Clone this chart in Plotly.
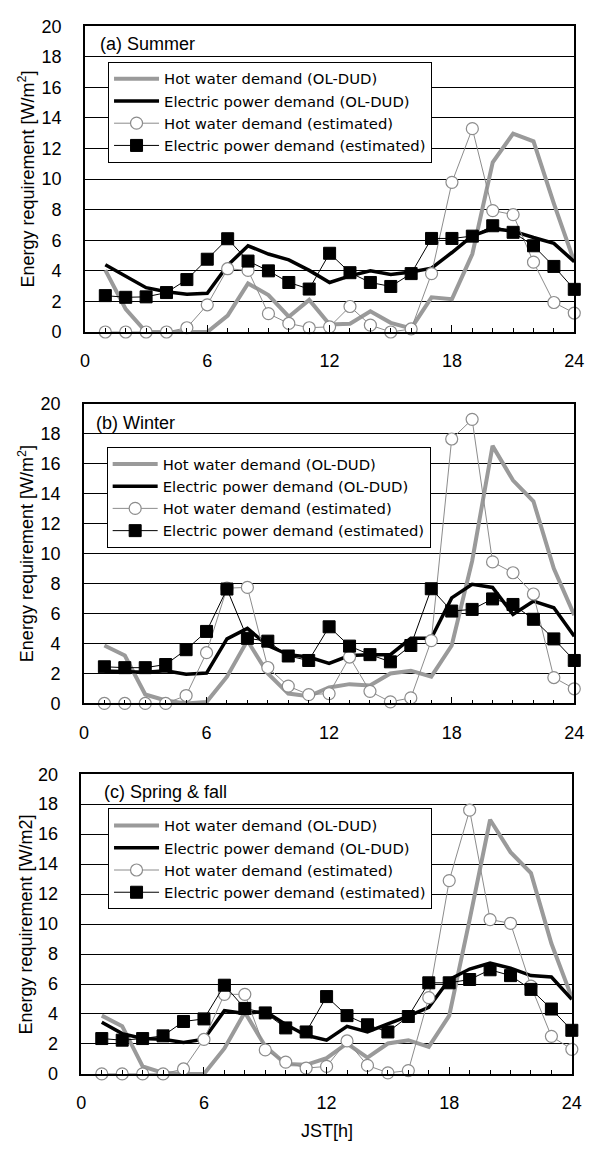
import plotly.graph_objects as go

hours = list(range(1, 25))

# (a) Summer
a_hot_ol = [4.05, 1.5, 0.0, 0.0, 0.0, 0.0, 1.07, 3.18, 2.42, 1.0, 2.1, 0.49, 0.54, 1.35, 0.6, 0.24,
            2.27, 2.15, 5.1, 11.1, 12.98, 12.47, 8.4, 4.6]
a_elec_ol = [4.4, 3.67, 2.9, 2.64, 2.47, 2.53, 4.36, 5.64, 5.1, 4.72, 4.03, 3.24, 3.67, 4.0, 3.76, 3.93,
             4.18, 5.2, 6.29, 6.76, 6.6, 6.18, 5.8, 4.6]
a_hot_est = [0.0, 0.0, 0.0, 0.0, 0.28, 1.78, 4.14, 4.03, 1.2, 0.56, 0.28, 0.34, 1.67, 0.45, 0.0, 0.2,
             3.82, 9.79, 13.3, 7.94, 7.68, 4.57, 1.93, 1.24]
a_elec_est = [2.38, 2.27, 2.3, 2.58, 3.43, 4.76, 6.1, 4.64, 4.0, 3.24, 2.81, 5.15, 3.88, 3.24, 2.98, 3.82,
              6.12, 6.12, 6.27, 6.95, 6.52, 5.64, 4.29, 2.79]

# (b) Winter
b_hot_ol = [3.87, 3.2, 0.6, 0.2, 0.0, 0.1, 1.79, 4.2, 2.0, 0.66, 0.48, 1.07, 1.29, 1.2, 2.0, 2.19,
            1.79, 3.87, 9.5, 17.2, 14.9, 13.5, 9.0, 5.9]
b_elec_ol = [2.17, 2.12, 2.08, 2.19, 1.95, 2.03, 4.31, 5.01, 3.87, 3.26, 3.1, 2.67, 3.2, 3.26, 3.26, 4.35,
             4.35, 7.05, 7.96, 7.75, 5.95, 6.83, 6.39, 4.49]
b_hot_est = [0.0, 0.0, 0.0, 0.0, 0.53, 3.39, 7.7, 7.75, 2.4, 1.16, 0.59, 0.66, 3.1, 0.81, 0.11, 0.37,
             4.2, 17.66, 18.97, 9.45, 8.73, 7.31, 1.73, 0.98]
b_elec_est = [2.45, 2.39, 2.39, 2.6, 3.59, 4.81, 7.64, 4.35, 4.16, 3.17, 2.87, 5.12, 3.83, 3.26, 2.78, 3.87,
              7.66, 6.17, 6.28, 6.98, 6.61, 5.62, 4.31, 2.87]

# (c) Spring & fall
c_hot_ol = [3.89, 3.19, 0.5, 0.07, 0.0, 0.0, 1.7, 4.11, 1.85, 0.66, 0.61, 1.05, 2.03, 1.09, 2.03, 2.25,
            1.81, 3.89, 10.3, 16.96, 14.8, 13.4, 8.7, 5.09]
c_elec_ol = [3.45, 2.69, 2.36, 2.32, 2.1, 2.32, 4.22, 4.04, 4.17, 3.3, 2.58, 2.25, 3.17, 2.8, 3.34, 3.85,
             4.44, 6.3, 7.0, 7.39, 7.06, 6.56, 6.47, 4.98]
c_hot_est = [0.0, 0.0, 0.0, 0.0, 0.33, 2.3, 5.31, 5.31, 1.6, 0.79, 0.39, 0.5, 2.2, 0.57, 0.07, 0.22,
             5.09, 12.9, 17.6, 10.3, 10.05, 5.86, 2.51, 1.64]
c_elec_est = [2.36, 2.25, 2.36, 2.54, 3.5, 3.67, 5.92, 4.37, 4.07, 3.07, 2.8, 5.16, 3.89, 3.28, 2.8, 3.83,
              6.08, 6.08, 6.3, 6.95, 6.56, 5.64, 4.33, 2.91]

series_names = ["Hot water demand (OL-DUD)", "Electric power demand (OL-DUD)",
                "Hot water demand (estimated)", "Electric power demand (estimated)"]
panel_labels = ["(a) Summer", "(b) Winter", "(c) Spring &amp; fall"]
y_titles = ["Energy requirement [W/m<sup>2</sup>]", "Energy requirement [W/m<sup>2</sup>]",
            "Energy requirement [W/m2]"]
x_tick_vals = [0, 6, 12, 18, 24]
y_tick_vals = [0, 2, 4, 6, 8, 10, 12, 14, 16, 18, 20]
x_title = "JST[h]"

W, H = 595, 1153
FONT = "Liberation Sans, Arial, sans-serif"
LEG_FONT = "DejaVu Sans, Liberation Sans, sans-serif"

# panel geometry in pixels: left, right, top, bottom
panels = [(82, 584, 16.5, 327.7), (81, 584, 400.9, 705.7), (78.3, 581.5, 777.7, 1082.7)]
legend_pos = [(105.7, 52.5), (104.3, 444.5), (105.7, 812.5)]
label_pos = [(95, 35), (91.7, 420), (100, 796)]

data = [(a_hot_ol, a_elec_ol, a_hot_est, a_elec_est),
        (b_hot_ol, b_elec_ol, b_hot_est, b_elec_est),
        (c_hot_ol, c_elec_ol, c_hot_est, c_elec_est)]

fig = go.Figure()
layout = dict(width=W, height=H, autosize=False, margin=dict(l=0, r=0, t=0, b=0),
              paper_bgcolor="white", plot_bgcolor="white", hovermode=False,
              font=dict(family=FONT, size=18, color="black"), annotations=[])

GRAY = "#9a9a9a"
for i, (hot_ol, elec_ol, hot_est, elec_est) in enumerate(data):
    sfx = "" if i == 0 else str(i + 1)
    xa, ya = "x" + sfx, "y" + sfx
    lg = "legend" + sfx
    common = dict(x=hours, xaxis=xa, yaxis=ya, legend=lg, cliponaxis=False)
    fig.add_trace(go.Scatter(y=hot_ol, name=series_names[0], mode="lines",
                             line=dict(color=GRAY, width=4), **common))
    fig.add_trace(go.Scatter(y=elec_ol, name=series_names[1], mode="lines",
                             line=dict(color="black", width=3.5), **common))
    fig.add_trace(go.Scatter(y=hot_est, name=series_names[2], mode="lines+markers",
                             line=dict(color="#8c8c8c", width=1),
                             marker=dict(symbol="circle", size=12, color="white",
                                         line=dict(color="#8c8c8c", width=1.2)), **common))
    fig.add_trace(go.Scatter(y=elec_est, name=series_names[3], mode="lines+markers",
                             line=dict(color="black", width=1),
                             marker=dict(symbol="square", size=12, color="black",
                                         line=dict(color="black", width=1)), **common))

    L, R, T, B = panels[i]
    layout["xaxis" + sfx] = dict(domain=[L / W, R / W], range=[0, 24], anchor=ya,
                                 tickvals=x_tick_vals, ticks="inside", ticklen=7, tickcolor="black",
                                 minor=dict(dtick=1, ticks="inside", ticklen=4, tickcolor="black"),
                                 showgrid=False, zeroline=False, showline=True, linecolor="black",
                                 linewidth=1.5, mirror=True, ticklabelstandoff=12,
                                 tickfont=dict(size=18, family=FONT))
    layout["yaxis" + sfx] = dict(domain=[1 - B / H, 1 - T / H], range=[0, 20], anchor=xa,
                                 tickvals=y_tick_vals, ticks="", showgrid=True, gridcolor="black",
                                 gridwidth=1, zeroline=False, showline=True, linecolor="black",
                                 linewidth=1.5, mirror=True, ticklabelstandoff=18,
                                 tickfont=dict(size=18, family=FONT))
    lx, ly = legend_pos[i]
    layout[lg] = dict(x=lx / W, y=1 - ly / H, xanchor="left", yanchor="top", xref="paper", yref="paper",
                      bgcolor="white", bordercolor="black", borderwidth=1,
                      font=dict(size=14.8, family=LEG_FONT), tracegroupgap=0, itemwidth=45)
    px_, py_ = label_pos[i]
    layout["annotations"].append(dict(text=panel_labels[i], x=px_ / W, y=1 - py_ / H, xref="paper",
                                      yref="paper", xanchor="left", yanchor="middle", showarrow=False,
                                      font=dict(size=18, family=FONT)))
    layout["annotations"].append(dict(text=y_titles[i], x=22 / W, y=1 - (T + B) / 2 / H, xref="paper",
                                      yref="paper", xanchor="center", yanchor="middle", showarrow=False,
                                      textangle=-90, font=dict(size=18, family=FONT)))

layout["annotations"].append(dict(text=x_title, x=330 / W, y=1 - 1141 / H, xref="paper", yref="paper",
                                  xanchor="center", yanchor="middle", showarrow=False,
                                  font=dict(size=18, family=FONT)))

fig.update_layout(**layout)
fig.write_html("out.html", config={"displayModeBar": False},
               post_script="document.body.style.margin='0';")
